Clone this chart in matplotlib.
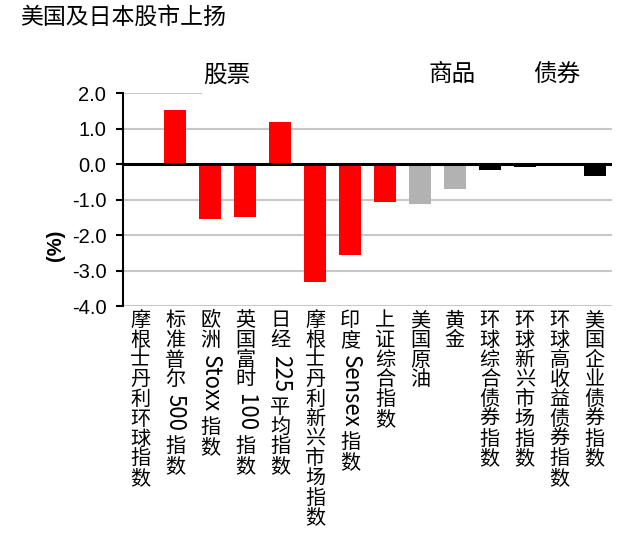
import re
import matplotlib
matplotlib.use("Agg")
import matplotlib.pyplot as plt

plt.rcParams['font.family'] = ['Liberation Sans', 'Noto Sans CJK SC', 'DejaVu Sans']

title = "美国及日本股市上扬"
categories = ["摩根士丹利环球指数", "标准普尔 500 指数", "欧洲 Stoxx 指数", "英国富时 100 指数",
              "日经 225 平均指数", "摩根士丹利新兴市场指数", "印度 Sensex 指数", "上证综合指数",
              "美国原油", "黄金",
              "环球综合债券指数", "环球新兴市场指数", "环球高收益债券指数", "美国企业债券指数"]
values = [0.0, 1.52, -1.54, -1.49, 1.17, -3.33, -2.55, -1.08,
          -1.13, -0.69,
          -0.18, -0.08, 0.0, -0.34]
groups = ["股票"] * 8 + ["商品"] * 2 + ["债券"] * 4
group_labels = ["股票", "商品", "债券"]
yticks = [2.0, 1.0, 0.0, -1.0, -2.0, -3.0, -4.0]
ylabel = "(%)"

colors = {"股票": "#ff0000", "商品": "#b2b2b2", "债券": "#000000"}
# where the group headings sit along the x axis (not centred on groups)
group_x = {"股票": 2.48, "商品": 8.92, "债券": 11.92}
cjk = ['Noto Sans CJK SC', 'DejaVu Sans']

fig = plt.figure(figsize=(6.43, 5.38), dpi=100)
ax = fig.add_axes([0.1913, 0.4312, 0.7605, 0.3959])

xs = list(range(len(categories)))
ax.bar(xs, values, width=0.63, color=[colors[g] for g in groups], zorder=3)

ax.set_xlim(-0.5, len(categories) - 0.5)
ax.set_ylim(-4.0, 2.0)
ax.set_yticks(yticks)
ax.set_yticklabels(["%.1f" % v for v in yticks], fontsize=14.5)
ax.tick_params(axis='y', direction='out', length=5, width=1.5, pad=7)
ax.set_xticks([])

for v in yticks:
    if v == 0.0:
        ax.axhline(v, color='black', lw=2.2, zorder=4)
    elif v == 2.0:
        ax.axhline(v, xmin=0, xmax=0.16, color='#c8c8c8', lw=1.5, zorder=1)
    else:
        ax.axhline(v, color='#c8c8c8', lw=1.5, zorder=1)

for s in ['top', 'right', 'bottom']:
    ax.spines[s].set_visible(False)
ax.spines['left'].set_linewidth(1.5)
ax.spines['left'].set_zorder(5)

ax.text(-0.139, 0.286, ylabel, transform=ax.transAxes, rotation=90,
        ha='center', va='center', fontsize=14.5, fontweight='bold')

for g in group_labels:
    ax.text(group_x[g], 1.085, g, transform=ax.get_xaxis_transform(),
            ha='center', va='center', fontsize=17, family=cjk)

fig.text(0.031, 1 - 17.5 / 538, title, ha='left', va='center', fontsize=16.5,
         family=cjk)

# vertical category labels: CJK upright, latin runs turned clockwise
renderer = fig.canvas.get_renderer()
fs = 14.5
for x, label in zip(xs, categories):
    y = -3
    for tok in re.findall(r'[A-Za-z0-9]+| |.', label):
        if tok == ' ':
            y -= fs * 0.25
            continue
        if tok.isascii():
            t = ax.annotate(tok, (x, 0), xycoords=('data', 'axes fraction'),
                            xytext=(0, y), textcoords='offset points',
                            rotation=-90, ha='center', va='top', fontsize=16,
                            family=cjk, annotation_clip=False)
            bb = t.get_window_extent(renderer)
            y -= bb.height * 72 / fig.dpi
        else:
            ax.annotate(tok, (x, 0), xycoords=('data', 'axes fraction'),
                        xytext=(0, y), textcoords='offset points',
                        ha='center', va='top', fontsize=fs,
                        family=cjk, annotation_clip=False)
            y -= fs * 0.98

fig.savefig("out.png", dpi=100)
